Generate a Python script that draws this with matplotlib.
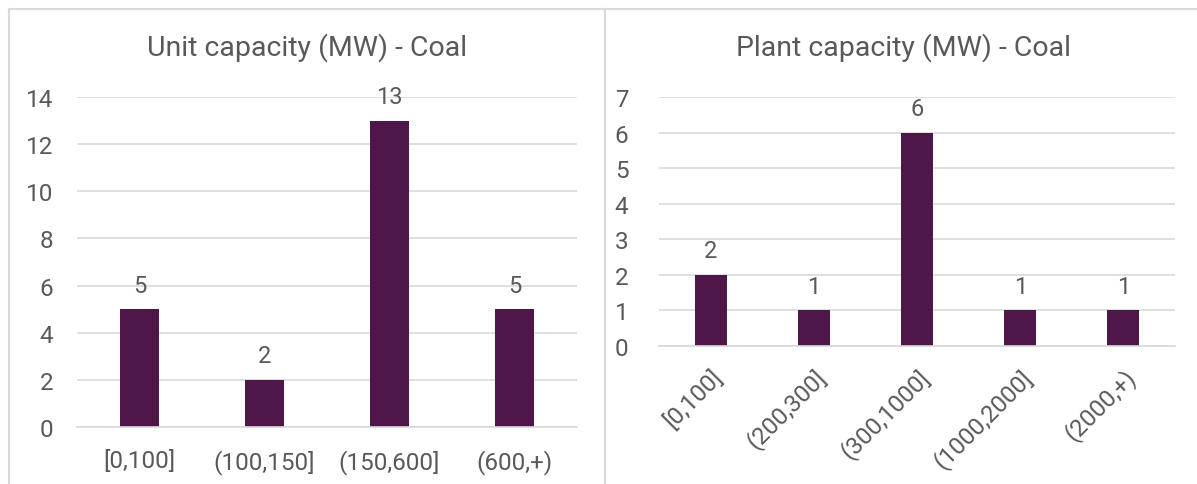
import matplotlib.pyplot as plt
from matplotlib.lines import Line2D
import numpy as np

plt.rcParams['font.family'] = ['Roboto', 'DejaVu Sans']

unit_bins   = ['[0,100]', '(100,150]', '(150,600]', '(600,+)']
unit_counts = [5, 2, 13, 5]

plant_bins   = ['[0,100]', '(200,300]', '(300,1000]', '(1000,2000]', '(2000,+)']
plant_counts = [2, 1, 6, 1, 1]

bar_color  = '#4f1649'
text_color = '#595959'
grid_color = '#d9d9d9'

W, H = 1197, 485
fig = plt.figure(figsize=(W / 100, H / 100), dpi=100)

def px(x0, y0, x1, y1):
    # pixel box (top-left origin) -> figure fraction rect
    return [x0 / W, 1 - y1 / H, (x1 - x0) / W, (y1 - y0) / H]

def style(ax, ymax, step):
    ax.set_ylim(0, ymax)
    ax.set_yticks(np.arange(0, ymax + 0.01, step))
    ax.yaxis.grid(True, color=grid_color, linewidth=1.2)
    ax.set_axisbelow(True)
    for s in ['top', 'right', 'left']:
        ax.spines[s].set_visible(False)
    ax.spines['bottom'].set_color(grid_color)
    ax.spines['bottom'].set_linewidth(1.2)
    ax.tick_params(length=0, colors=text_color, labelsize=17.5)
    ax.tick_params(axis='y', pad=17)

def label_bars(ax, bars, values):
    for b, v in zip(bars, values):
        ax.annotate(str(v), (b.get_x() + b.get_width() / 2, v),
                    xytext=(0, 9), textcoords='offset points',
                    ha='center', va='bottom', fontsize=17, color=text_color)

# left chart: unit capacity
ax1 = fig.add_axes(px(77, 98, 577, 428))
x1 = np.arange(len(unit_bins))
bars1 = ax1.bar(x1, unit_counts, width=0.31, color=bar_color)
ax1.set_xlim(-0.5, len(unit_bins) - 0.5)
ax1.set_xticks(x1, unit_bins)
style(ax1, 14, 2)
ax1.tick_params(axis='x', pad=16)
label_bars(ax1, bars1, unit_counts)

# right chart: plant capacity
ax2 = fig.add_axes(px(659, 98, 1175, 347))
x2 = np.arange(len(plant_bins))
bars2 = ax2.bar(x2, plant_counts, width=0.31, color=bar_color)
ax2.set_xlim(-0.5, len(plant_bins) - 0.5)
ax2.set_xticks(x2, plant_bins, rotation=45, ha='right', rotation_mode='anchor')
style(ax2, 7, 1)
ax2.tick_params(axis='y', pad=22)
ax2.tick_params(axis='x', pad=13)
label_bars(ax2, bars2, plant_counts)

fig.text(307 / W, 1 - 48 / H, 'Unit capacity (MW) - Coal', ha='center', va='center',
         fontsize=20.5, color=text_color)
fig.text(903 / W, 1 - 48 / H, 'Plant capacity (MW) - Coal', ha='center', va='center',
         fontsize=20.5, color=text_color)

# chart area frames
def fline(xs, ys):
    fig.add_artist(Line2D([x / W for x in xs], [1 - y / H for y in ys],
                          color=grid_color, linewidth=1.5))

fline([9, 9], [10, H + 5])
fline([9, W + 5], [10, 10])
fline([605, 605], [10, H + 5])

fig.savefig('out.png', dpi=100, facecolor='white')
